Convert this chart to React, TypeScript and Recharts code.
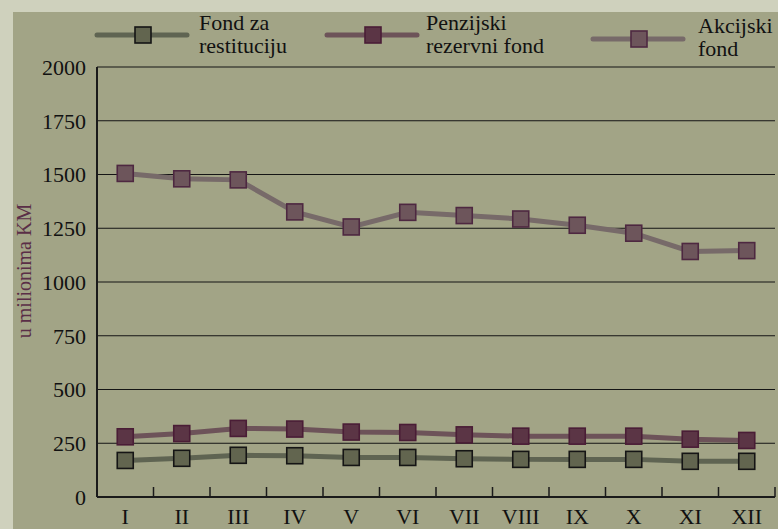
import React from "react";
import { LineChart, Line, XAxis, YAxis, CartesianGrid } from "recharts";

const months = ["I", "II", "III", "IV", "V", "VI", "VII", "VIII", "IX", "X", "XI", "XII"];
const restitucija = [170, 180, 194, 192, 184, 184, 178, 175, 175, 175, 166, 166];
const penzijski = [280, 295, 319, 316, 302, 300, 289, 283, 283, 283, 269, 263];
const akcijski = [1505, 1480, 1475, 1326, 1256, 1324, 1309, 1293, 1264, 1227, 1142, 1146];
const yTicks = [0, 250, 500, 750, 1000, 1250, 1500, 1750, 2000];

const data = months.map((m, i) => ({
  month: m,
  restitucija: restitucija[i],
  penzijski: penzijski[i],
  akcijski: akcijski[i],
}));

const FONT = "Liberation Serif, DejaVu Serif, serif";
const W = 765;
const H = 517;
const Y_W = 84;
const M_RIGHT = 3;
const BAND = (W - Y_W - M_RIGHT) / months.length;

const series = [
  { key: "restitucija", lines: ["Fond za", "restituciju"], line: "#5f6452", fill: "#62654f", edge: "#151515" },
  { key: "penzijski", lines: ["Penzijski", "rezervni fond"], line: "#6d5359", fill: "#5b3545", edge: "#4a1d36" },
  { key: "akcijski", lines: ["Akcijski", "fond"], line: "#776a69", fill: "#6d555b", edge: "#4e2841" },
];

const squareDot = (fill: string, edge: string) => (props: any) => {
  const { cx, cy, index } = props;
  return (
    <rect key={index} x={cx - 8} y={cy - 8} width={16} height={16} fill={fill} stroke={edge} strokeWidth={1.6} />
  );
};

const MonthTick = (props: any) => {
  const { x, y, payload } = props;
  const edge = x + BAND / 2;
  return (
    <g>
      <line x1={edge} y1={y} x2={edge} y2={y - 10} stroke="#1a1a1a" strokeWidth={1.5} />
      <text x={x} y={y + 27} textAnchor="middle" fontSize={22} fontFamily={FONT} fill="#111">
        {payload.value}
      </text>
    </g>
  );
};

const YLabel = (props: any) => {
  const { viewBox } = props;
  const x = 18;
  const y = viewBox.y + viewBox.height / 2 - 11;
  return (
    <text
      x={x}
      y={y}
      transform={`rotate(-90, ${x}, ${y})`}
      textAnchor="middle"
      fontSize={20}
      fontFamily={FONT}
      fill="#5a2e47"
    >
      u milionima KM
    </text>
  );
};

const legendPos = [
  { x0: 97, text: 199, y: 35, base: 30 },
  { x0: 327, text: 426, y: 35, base: 30 },
  { x0: 593, text: 698, y: 39, base: 33 },
];

function Legend() {
  return (
    <svg width={778} height={60} style={{ position: "absolute", left: 0, top: 0 }}>
      {series.map((s, i) => {
        const p = legendPos[i];
        return (
          <g key={s.key}>
            <line x1={p.x0} y1={p.y} x2={p.x0 + 90} y2={p.y} stroke={s.line} strokeWidth={5} strokeLinecap="round" />
            <rect x={p.x0 + 38} y={p.y - 8} width={16} height={16} fill={s.fill} stroke={s.edge} strokeWidth={1.6} />
            {s.lines.map((t, j) => (
              <text key={j} x={p.text} y={p.base + j * 23} fontSize={22} fontFamily={FONT} fill="#111">
                {t}
              </text>
            ))}
          </g>
        );
      })}
    </svg>
  );
}

export default function App() {
  return (
    <div style={{ position: "absolute", left: 0, top: 0, width: 778, height: 529, background: "#cfd1bd", overflow: "hidden" }}>
      <div style={{ position: "absolute", left: 13, top: 12, width: W, height: H, background: "#a2a486" }}>
        <LineChart width={W} height={H} data={data} margin={{ top: 55, right: M_RIGHT, bottom: 0, left: 0 }}>
          <CartesianGrid vertical={false} stroke="#151515" strokeWidth={1} />
          <XAxis
            dataKey="month"
            scale="band"
            height={32}
            tickSize={0}
            tickMargin={0}
            tickLine={false}
            axisLine={{ stroke: "#1a1a1a", strokeWidth: 2 }}
            tick={<MonthTick />}
            interval={0}
          />
          <YAxis
            domain={[0, 2000]}
            ticks={yTicks}
            width={Y_W}
            tickSize={0}
            tickMargin={11}
            tickLine={false}
            axisLine={{ stroke: "#1a1a1a", strokeWidth: 2 }}
            tick={{ fontSize: 22, fontFamily: FONT, fill: "#111" }}
            label={<YLabel />}
          />
          {series.map((s) => (
            <Line
              key={s.key}
              dataKey={s.key}
              stroke={s.line}
              strokeWidth={5}
              dot={squareDot(s.fill, s.edge)}
              activeDot={false}
              isAnimationActive={false}
            />
          ))}
        </LineChart>
      </div>
      <Legend />
    </div>
  );
}
